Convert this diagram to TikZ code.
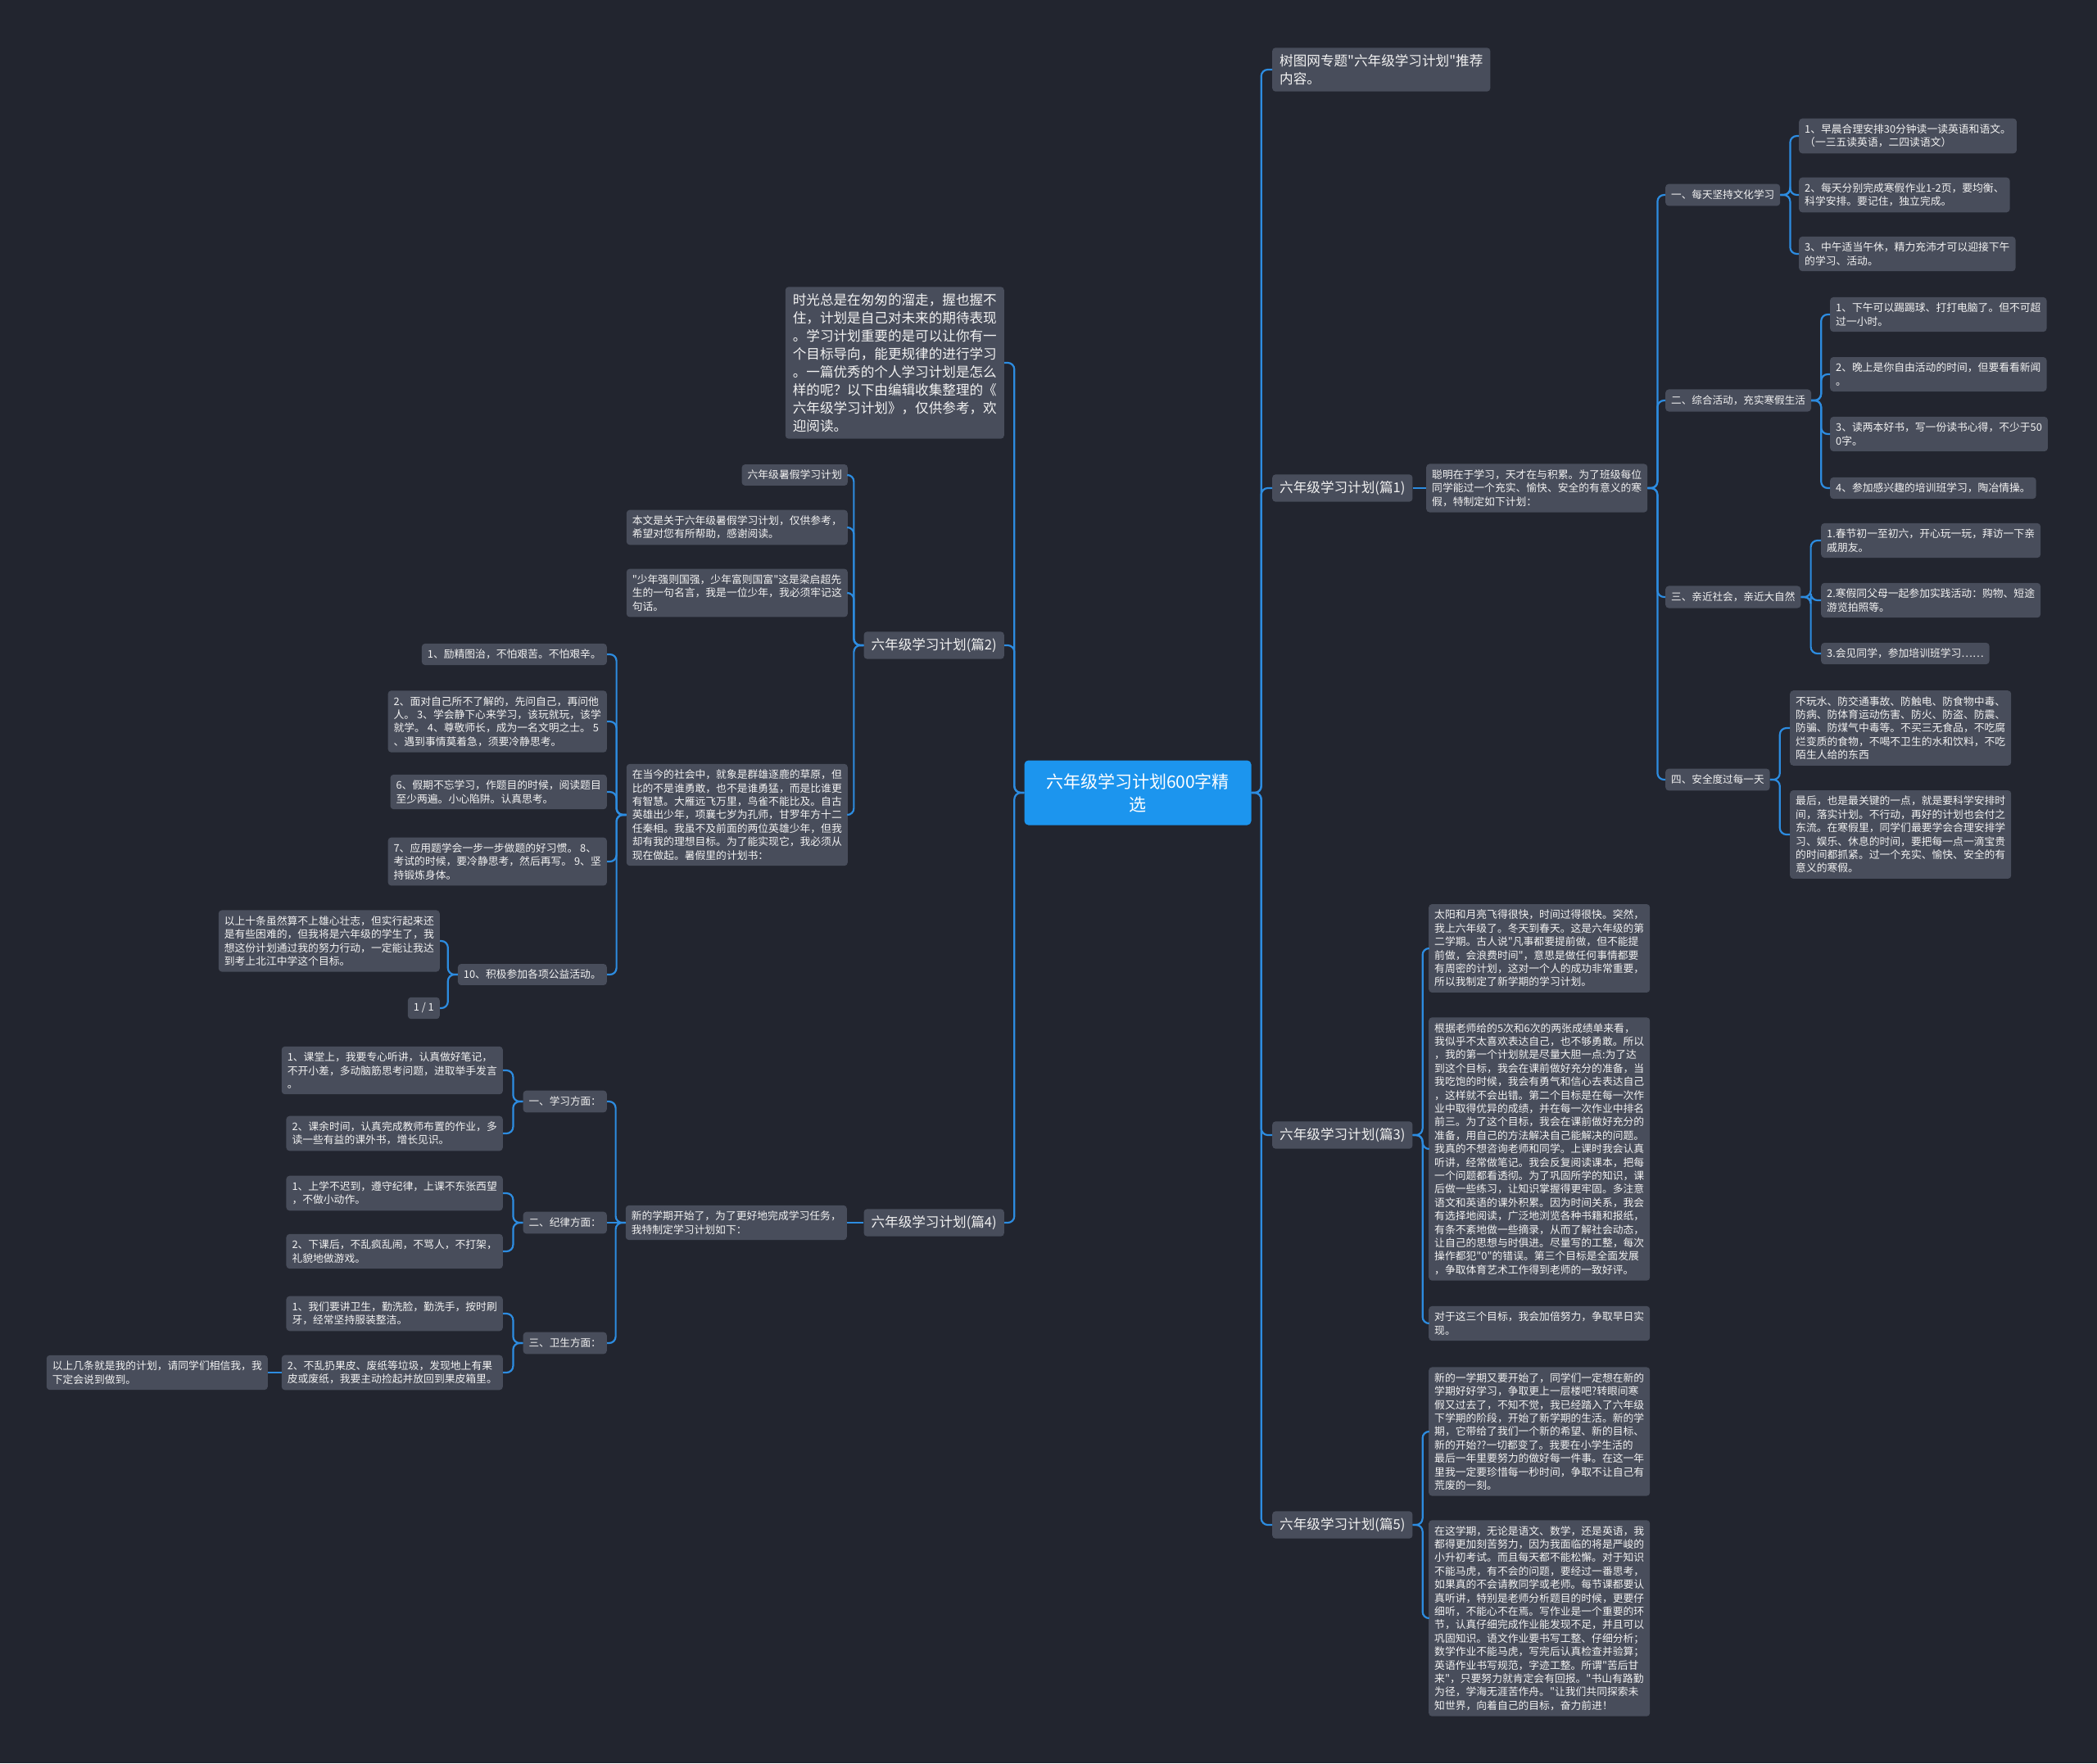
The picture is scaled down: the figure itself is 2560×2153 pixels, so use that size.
\documentclass[tikz,border=0pt]{standalone}
\usepackage{fontspec}
\newfontfamily\cjk{Noto Sans CJK SC}
\definecolor{bgcol}{HTML}{22252F}
\definecolor{nodecol}{HTML}{484D5B}
\definecolor{linecol}{HTML}{2D8CE0}
\definecolor{rootcol}{HTML}{1C95EE}
\definecolor{txtcol}{HTML}{F2F2F2}
\tikzset{
 leaf/.style={fill=nodecol, rounded corners=4pt, text=txtcol, font=\cjk\fontsize{12.8}{16.4}\selectfont, align=left, inner xsep=7pt, inner ysep=7pt},
 midn/.style={leaf, font=\cjk\fontsize{12.6}{15}\selectfont, inner xsep=7pt, inner ysep=7.5pt},
 lvl/.style={leaf, font=\cjk\fontsize{16.6}{22}\selectfont, inner xsep=9pt, inner ysep=8pt},
 rootn/.style={fill=rootcol, rounded corners=5pt, text=white, font=\cjk\fontsize{21}{28}\selectfont, align=center, minimum width=277pt, minimum height=79pt},
 conn/.style={draw=linecol, line width=2.2pt, rounded corners=8pt}
}
\begin{document}
\begin{tikzpicture}[x=1pt,y=-1pt]
\fill[bgcol] (0,0) rectangle (2560,2153);
\useasboundingbox (0,0) rectangle (2560,2153);

\node[rootn] (root) at (1389,968) {六年级学习计划600字精\\选};

% ---------- right side ----------
\node[lvl, anchor=west] (t0) at (1553,85) {树图网专题"六年级学习计划"推荐\\内容。};
\node[lvl, anchor=west] (p1) at (1553,596) {六年级学习计划(篇1)};
\node[lvl, anchor=west] (p3) at (1553,1386) {六年级学习计划(篇3)};
\node[lvl, anchor=west] (p5) at (1553,1862) {六年级学习计划(篇5)};

\node[leaf, anchor=west] (a1) at (1741,596) {聪明在于学习，天才在与积累。为了班级每位\\同学能过一个充实、愉快、安全的有意义的寒\\假，特制定如下计划：};

\node[midn, anchor=west] (b1) at (2033,238) {一、每天坚持文化学习};
\node[midn, anchor=west] (b2) at (2033,489) {二、综合活动，充实寒假生活};
\node[midn, anchor=west] (b3) at (2033,729) {三、亲近社会，亲近大自然};
\node[midn, anchor=west] (b4) at (2033,952) {四、安全度过每一天};

\node[leaf, anchor=west] (b11) at (2196,166) {1、早晨合理安排30分钟读一读英语和语文。\\（一三五读英语，二四读语文）};
\node[leaf, anchor=west] (b12) at (2196,238) {2、每天分别完成寒假作业1-2页，要均衡、\\科学安排。要记住，独立完成。};
\node[leaf, anchor=west] (b13) at (2196,310) {3、中午适当午休，精力充沛才可以迎接下午\\的学习、活动。};

\node[leaf, anchor=west] (b21) at (2234,384) {1、下午可以踢踢球、打打电脑了。但不可超\\过一小时。};
\node[leaf, anchor=west] (b22) at (2234,457) {2、晚上是你自由活动的时间，但要看看新闻\\。};
\node[leaf, anchor=west] (b23) at (2234,530) {3、读两本好书，写一份读书心得，不少于50\\0字。};
\node[leaf, anchor=west] (b24) at (2234,596) {4、参加感兴趣的培训班学习，陶冶情操。};

\node[leaf, anchor=west] (b31) at (2223,660) {1.春节初一至初六，开心玩一玩，拜访一下亲\\戚朋友。};
\node[leaf, anchor=west] (b32) at (2223,733) {2.寒假同父母一起参加实践活动：购物、短途\\游览拍照等。};
\node[leaf, anchor=west] (b33) at (2223,798) {3.会见同学，参加培训班学习……};

\node[leaf, anchor=west] (b41) at (2185,889) {不玩水、防交通事故、防触电、防食物中毒、\\防病、防体育运动伤害、防火、防盗、防震、\\防骗、防煤气中毒等。不买三无食品，不吃腐\\烂变质的食物，不喝不卫生的水和饮料，不吃\\陌生人给的东西};
\node[leaf, anchor=west] (b42) at (2185,1019) {最后，也是最关键的一点，就是要科学安排时\\间，落实计划。不行动，再好的计划也会付之\\东流。在寒假里，同学们最要学会合理安排学\\习、娱乐、休息的时间，要把每一点一滴宝贵\\的时间都抓紧。过一个充实、愉快、安全的有\\意义的寒假。};

\node[leaf, anchor=west] (c31) at (1744,1158) {太阳和月亮飞得很快，时间过得很快。突然，\\我上六年级了。冬天到春天。这是六年级的第\\二学期。古人说"凡事都要提前做，但不能提\\前做，会浪费时间"，意思是做任何事情都要\\有周密的计划，这对一个人的成功非常重要，\\所以我制定了新学期的学习计划。};
\node[leaf, anchor=west] (c32) at (1744,1403) {根据老师给的5次和6次的两张成绩单来看，\\我似乎不太喜欢表达自己，也不够勇敢。所以\\，我的第一个计划就是尽量大胆一点:为了达\\到这个目标，我会在课前做好充分的准备，当\\我吃饱的时候，我会有勇气和信心去表达自己\\，这样就不会出错。第二个目标是在每一次作\\业中取得优异的成绩，并在每一次作业中排名\\前三。为了这个目标，我会在课前做好充分的\\准备，用自己的方法解决自己能解决的问题。\\我真的不想咨询老师和同学。上课时我会认真\\听讲，经常做笔记。我会反复阅读课本，把每\\一个问题都看透彻。为了巩固所学的知识，课\\后做一些练习，让知识掌握得更牢固。多注意\\语文和英语的课外积累。因为时间关系，我会\\有选择地阅读，广泛地浏览各种书籍和报纸，\\有条不紊地做一些摘录，从而了解社会动态，\\让自己的思想与时俱进。尽量写的工整，每次\\操作都犯"0"的错误。第三个目标是全面发展\\，争取体育艺术工作得到老师的一致好评。};
\node[leaf, anchor=west] (c33) at (1744,1616) {对于这三个目标，我会加倍努力，争取早日实\\现。};

\node[leaf, anchor=west] (c51) at (1744,1748) {新的一学期又要开始了，同学们一定想在新的\\学期好好学习，争取更上一层楼吧?转眼间寒\\假又过去了，不知不觉，我已经踏入了六年级\\下学期的阶段，开始了新学期的生活。新的学\\期，它带给了我们一个新的希望、新的目标、\\新的开始??一切都变了。我要在小学生活的\\最后一年里要努力的做好每一件事。在这一年\\里我一定要珍惜每一秒时间，争取不让自己有\\荒废的一刻。};
\node[leaf, anchor=west] (c52) at (1744,1976) {在这学期，无论是语文、数学，还是英语，我\\都得更加刻苦努力，因为我面临的将是严峻的\\小升初考试。而且每天都不能松懈。对于知识\\不能马虎，有不会的问题，要经过一番思考，\\如果真的不会请教同学或老师。每节课都要认\\真听讲，特别是老师分析题目的时候，更要仔\\细听，不能心不在焉。写作业是一个重要的环\\节，认真仔细完成作业能发现不足，并且可以\\巩固知识。语文作业要书写工整、仔细分析；\\数学作业不能马虎，写完后认真检查并验算；\\英语作业书写规范，字迹工整。所谓"苦后甘\\来"，只要努力就肯定会有回报。"书山有路勤\\为径，学海无涯苦作舟。"让我们共同探索未\\知世界，向着自己的目标，奋力前进！};

% ---------- left side ----------
\node[lvl, anchor=east] (intro) at (1226,443) {时光总是在匆匆的溜走，握也握不\\住，计划是自己对未来的期待表现\\。学习计划重要的是可以让你有一\\个目标导向，能更规律的进行学习\\。一篇优秀的个人学习计划是怎么\\样的呢？以下由编辑收集整理的《\\六年级学习计划》，仅供参考，欢\\迎阅读。};
\node[lvl, anchor=east] (p2) at (1226,788) {六年级学习计划(篇2)};
\node[lvl, anchor=east] (p4) at (1226,1493) {六年级学习计划(篇4)};

\node[leaf, anchor=east] (q1) at (1035,580) {六年级暑假学习计划};
\node[leaf, anchor=east] (q2) at (1035,644) {本文是关于六年级暑假学习计划，仅供参考，\\希望对您有所帮助，感谢阅读。};
\node[leaf, anchor=east] (q3) at (1035,724) {"少年强则国强，少年富则国富"这是梁启超先\\生的一句名言，我是一位少年，我必须牢记这\\句话。};
\node[leaf, anchor=east] (q4) at (1035,995) {在当今的社会中，就象是群雄逐鹿的草原，但\\比的不是谁勇敢，也不是谁勇猛，而是比谁更\\有智慧。大雁远飞万里，鸟雀不能比及。自古\\英雄出少年，项襄七岁为孔师，甘罗年方十二\\任秦相。我虽不及前面的两位英雄少年，但我\\却有我的理想目标。为了能实现它，我必须从\\现在做起。暑假里的计划书：};

\node[leaf, anchor=east] (r1) at (741,799) {1、励精图治，不怕艰苦。不怕艰辛。};
\node[leaf, anchor=east] (r2) at (741,881) {2、面对自己所不了解的，先问自己，再问他\\人。 3、学会静下心来学习，该玩就玩，该学\\就学。 4、尊敬师长，成为一名文明之士。 5\\、遇到事情莫着急，须要冷静思考。};
\node[leaf, anchor=east] (r3) at (741,967) {6、假期不忘学习，作题目的时候，阅读题目\\至少两遍。小心陷阱。认真思考。};
\node[leaf, anchor=east] (r4) at (741,1052) {7、应用题学会一步一步做题的好习惯。 8、\\考试的时候，要冷静思考，然后再写。 9、坚\\持锻炼身体。};
\node[leaf, anchor=east] (r5) at (741,1190) {10、积极参加各项公益活动。};

\node[leaf, anchor=east] (s1) at (537,1149) {以上十条虽然算不上雄心壮志，但实行起来还\\是有些困难的，但我将是六年级的学生了，我\\想这份计划通过我的努力行动，一定能让我达\\到考上北江中学这个目标。};
\node[leaf, anchor=east] (s2) at (537,1231) {1 / 1};

\node[leaf, anchor=east] (e0) at (1034,1493) {新的学期开始了，为了更好地完成学习任务，\\我特制定学习计划如下：};

\node[midn, anchor=east] (u1) at (741,1345) {一、学习方面：};
\node[midn, anchor=east] (u2) at (741,1493) {二、纪律方面：};
\node[midn, anchor=east] (u3) at (741,1640) {三、卫生方面：};

\node[leaf, anchor=east] (v11) at (614,1307) {1、课堂上，我要专心听讲，认真做好笔记，\\不开小差，多动脑筋思考问题，进取举手发言\\。};
\node[leaf, anchor=east] (v12) at (614,1384) {2、课余时间，认真完成教师布置的作业，多\\读一些有益的课外书，增长见识。};
\node[leaf, anchor=east] (v21) at (614,1457) {1、上学不迟到，遵守纪律，上课不东张西望\\，不做小动作。};
\node[leaf, anchor=east] (v22) at (614,1528) {2、下课后，不乱疯乱闹，不骂人，不打架，\\礼貌地做游戏。};
\node[leaf, anchor=east] (v31) at (614,1604) {1、我们要讲卫生，勤洗脸，勤洗手，按时刷\\牙，经常坚持服装整洁。};
\node[leaf, anchor=east] (v32) at (614,1676) {2、不乱扔果皮、废纸等垃圾，发现地上有果\\皮或废纸，我要主动捡起并放回到果皮箱里。};
\node[leaf, anchor=east] (w) at (327,1676) {以上几条就是我的计划，请同学们相信我，我\\下定会说到做到。};

% ---------- connectors ----------
\foreach \c in {t0,p1,p3,p5} \draw[conn] (root.east) -- ++(12,0) |- (\c.west);
\draw[conn] (p1.east) -- (a1.west);
\foreach \c in {b1,b2,b3,b4} \draw[conn] (a1.east) -- ++(12,0) |- (\c.west);
\foreach \c in {b11,b12,b13} \draw[conn] (b1.east) -- ++(12,0) |- (\c.west);
\foreach \c in {b21,b22,b23,b24} \draw[conn] (b2.east) -- ++(12,0) |- (\c.west);
\foreach \c in {b31,b32,b33} \draw[conn] (b3.east) -- ++(12,0) |- (\c.west);
\foreach \c in {b41,b42} \draw[conn] (b4.east) -- ++(12,0) |- (\c.west);
\foreach \c in {c31,c32,c33} \draw[conn] (p3.east) -- ++(12,0) |- (\c.west);
\foreach \c in {c51,c52} \draw[conn] (p5.east) -- ++(12,0) |- (\c.west);

\foreach \c in {intro,p2,p4} \draw[conn] (root.west) -- ++(-12,0) |- (\c.east);
\foreach \c in {q1,q2,q3,q4} \draw[conn] (p2.west) -- ++(-12,0) |- (\c.east);
\foreach \c in {r1,r2,r3,r4,r5} \draw[conn] (q4.west) -- ++(-12,0) |- (\c.east);
\foreach \c in {s1,s2} \draw[conn] (r5.west) -- ++(-12,0) |- (\c.east);
\draw[conn] (p4.west) -- (e0.east);
\foreach \c in {u1,u3} \draw[conn] (e0.west) -- ++(-12,0) |- (\c.east);
\draw[conn] (e0.west) -- (u2.east);
\foreach \c in {v11,v12} \draw[conn] (u1.west) -- ++(-12,0) |- (\c.east);
\foreach \c in {v21,v22} \draw[conn] (u2.west) -- ++(-12,0) |- (\c.east);
\foreach \c in {v31,v32} \draw[conn] (u3.west) -- ++(-12,0) |- (\c.east);
\draw[conn] (v32.west) -- (w.east);
\end{tikzpicture}
\end{document}
